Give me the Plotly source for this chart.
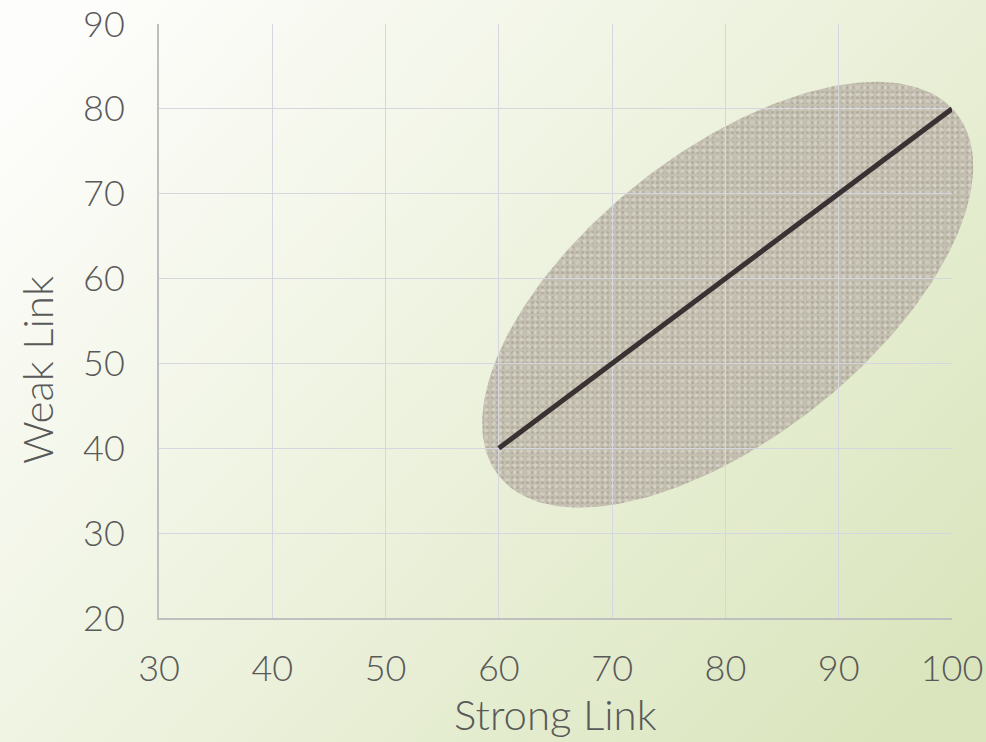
import base64
import numpy as np
import plotly.graph_objects as go

# ---- data ----
line_x = [60, 100]
line_y = [40, 80]
x_ticks = [30, 40, 50, 60, 70, 80, 90, 100]
y_ticks = [20, 30, 40, 50, 60, 70, 80, 90]
x_title = "Strong Link"
y_title = "Weak Link"
x_range = [30, 100]
y_range = [20, 90]

# ellipse (confidence region) in data units
ell_center = (80.2, 58.1)
ell_major = (20.22, 21.33)   # semi-major axis vector
ell_minor = (7.80, -13.20)   # semi-minor axis vector

W, H = 986, 742
ML, MR, MT, MB = 159, 34, 24, 124
PW, PH = W - ML - MR, H - MT - MB
sx = PW / (x_range[1] - x_range[0])
sy = PH / (y_range[1] - y_range[0])

t = np.linspace(0, 2 * np.pi, 241)
ex = ell_center[0] + ell_major[0] * np.cos(t) + ell_minor[0] * np.sin(t)
ey = ell_center[1] + ell_major[1] * np.cos(t) + ell_minor[1] * np.sin(t)

TXT = "#595959"
FONT = "Lato"

fig = go.Figure()

# ellipse on a full-canvas overlay axis pair (not clipped by the plot frame)
fig.add_trace(go.Scatter(
    x=ex, y=ey, xaxis="x", yaxis="y", mode="lines", fill="toself",
    line=dict(width=0, color="rgba(0,0,0,0)"),
    fillcolor="rgba(192,187,172,0.9)",
    fillpattern=dict(shape=".", size=5, solidity=0.3, fgcolor="#a19b8f", fgopacity=0.55,
                     fillmode="overlay"),
    hoverinfo="skip", showlegend=False))
fig.add_trace(go.Scatter(
    x=ex, y=ey, xaxis="x", yaxis="y", mode="lines", fill="toself",
    line=dict(width=0, color="rgba(0,0,0,0)"),
    fillcolor="rgba(0,0,0,0)",
    fillpattern=dict(shape=".", size=7, solidity=0.25, fgcolor="#dedacf", fgopacity=0.6,
                     bgcolor="rgba(0,0,0,0)", fillmode="overlay"),
    hoverinfo="skip", showlegend=False))

# regression line on the framed axes
fig.add_trace(go.Scatter(
    x=line_x, y=line_y, xaxis="x2", yaxis="y2", mode="lines",
    line=dict(color="#3a3232", width=5),
    hoverinfo="skip", showlegend=False))

svg = f'''<svg xmlns="http://www.w3.org/2000/svg" width="{W}" height="{H}" viewBox="0 0 {W} {H}" preserveAspectRatio="none">
<defs><linearGradient id="g" x1="0" y1="0.15" x2="1" y2="0.85">
<stop offset="0" stop-color="#fdfdfb"/><stop offset="0.45" stop-color="#eef3e0"/><stop offset="1" stop-color="#dae5bd"/>
</linearGradient></defs><rect width="{W}" height="{H}" fill="url(#g)"/></svg>'''
uri = "data:image/svg+xml;base64," + base64.b64encode(svg.encode()).decode()
fig.add_layout_image(dict(source=uri, xref="paper", yref="paper",
                          x=0, y=1, sizex=1, sizey=1,
                          xanchor="left", yanchor="top", sizing="stretch", layer="below"))

hidden = dict(visible=False, showgrid=False, zeroline=False, showline=False,
              automargin=False, fixedrange=True)
framed = dict(showgrid=True, gridcolor="#d6d6e0", gridwidth=1,
              showline=True, linecolor="#bfbfbf", linewidth=2, mirror=False,
              zeroline=False, ticks="", automargin=False,
              tickfont=dict(family=FONT, size=36, color=TXT, weight=300))

fig.update_layout(
    width=W, height=H, margin=dict(l=0, r=0, t=0, b=0, pad=0),
    paper_bgcolor="#eef2e0", plot_bgcolor="rgba(0,0,0,0)",
    font=dict(family=FONT, color=TXT, size=36),
    showlegend=False,
    xaxis=dict(domain=[0, 1], range=[x_range[0] - ML / sx, x_range[1] + MR / sx], **hidden),
    yaxis=dict(domain=[0, 1], range=[y_range[0] - MB / sy, y_range[1] + MT / sy], **hidden),
    xaxis2=dict(domain=[ML / W, (W - MR) / W], range=x_range, anchor="y2",
                tickvals=x_ticks, ticktext=[str(v) for v in x_ticks],
                ticklabelstandoff=18, **framed),
    yaxis2=dict(domain=[MB / H, (H - MT) / H], range=y_range, anchor="x2",
                tickvals=y_ticks, ticktext=[str(v) for v in y_ticks],
                ticklabelstandoff=25, **framed),
)

fig.add_annotation(text=x_title, xref="paper", yref="paper", x=(ML + PW / 2) / W, y=1 - 714 / H,
                   xanchor="center", yanchor="middle", showarrow=False,
                   font=dict(family=FONT, size=42, color=TXT, weight=300))
fig.add_annotation(text=y_title, xref="paper", yref="paper", x=37 / W, y=1 - 370 / H,
                   xanchor="center", yanchor="middle", showarrow=False, textangle=-90,
                   font=dict(family=FONT, size=42, color=TXT, weight=300))

fig.write_html("out.html")
